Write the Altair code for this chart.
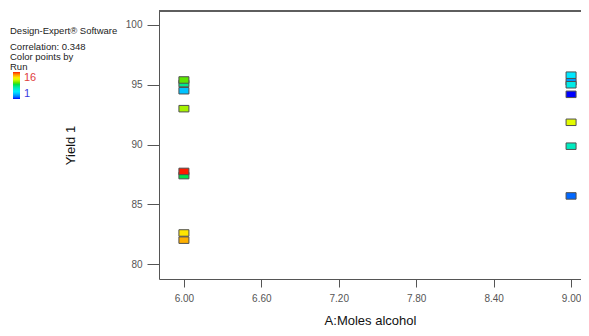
import altair as alt
import pandas as pd

# data
moles = [9.0, 9.0, 9.0, 6.0, 9.0, 9.0, 9.0, 6.0, 6.0, 6.0, 6.0, 9.0, 6.0, 6.0, 6.0]
yields = [94.2, 85.7, 95.25, 94.5, 95.8, 95.0, 89.86, 95.1, 87.4, 95.4, 93.0, 91.86, 82.6, 82.0, 87.75]
runs = [1, 2, 3, 4, 5, 6, 7, 8, 9, 10, 11, 12, 13, 14, 16]

x_ticks = [6.0, 6.6, 7.2, 7.8, 8.4, 9.0]
y_ticks = [80, 85, 90, 95, 100]

notes = ["Design-Expert® Software", "Correlation: 0.348", "Color points by", "Run"]
note_y = [20, 36, 46, 56]

df = pd.DataFrame({"x": moles, "y": yields, "run": runs})
notes_df = pd.DataFrame({"t": notes, "py": note_y})

FONT = "Liberation Sans"
GREY = "#555555"
W, H = 422, 268

points = alt.Chart(df).mark_point(
    shape="M-1,-0.65H1V0.65H-1Z", size=100, filled=True, opacity=1,
    stroke="#505050", strokeWidth=1
).encode(
    x=alt.X("x:Q", scale=alt.Scale(domain=[5.807, 9.077], nice=False, zero=False),
            axis=alt.Axis(values=x_ticks, format=".2f", title="A:Moles alcohol",
                          tickSize=8, labelPadding=6, titlePadding=11,
                          titleFontSize=13, titleFontWeight="normal", titleColor="#111",
                          labelFontSize=10, labelColor=GREY, domainColor=GREY,
                          tickColor=GREY, grid=False, labelFont=FONT, titleFont=FONT)),
    y=alt.Y("y:Q", scale=alt.Scale(domain=[78.75, 101.17], nice=False, zero=False),
            axis=alt.Axis(values=y_ticks, title="Yield 1", tickSize=12, labelPadding=5,
                          titlePadding=48, titleFontSize=13, titleFontWeight="normal",
                          titleColor="#111", labelFontSize=10, labelColor=GREY,
                          domainColor=GREY, tickColor=GREY, grid=False,
                          labelFont=FONT, titleFont=FONT)),
    fill=alt.Fill("run:Q",
                  scale=alt.Scale(domain=[1, 5, 9.5, 12.5, 16],
                                  range=["#0000ff", "#00e8ff", "#10e010", "#ffff00", "#ff1a00"]),
                  legend=alt.Legend(orient="none", legendX=-146, legendY=61,
                                    title=None, gradientLength=27, gradientThickness=7,
                                    values=[1, 16], labelFontSize=11, labelFont=FONT,
                                    labelColor=alt.ExprRef("datum.value >= 16 ? '#e04040' : '#3a3ae0'"),
                                    labelOffset=4, gradientStrokeWidth=0, direction="vertical")),
)

# top border of the frame (the right border lies beyond the picture in the reference)
top_line = alt.Chart(notes_df).mark_rule(color=GREY, strokeWidth=1).encode(
    x=alt.value(0), x2=alt.value(W), y=alt.value(0)
)

texts = alt.Chart(notes_df).mark_text(
    align="left", baseline="middle", font=FONT, fontSize=9.5, color="#222"
).encode(
    x=alt.value(-149),
    y=alt.Y("py:Q", scale=None),
    text="t:N",
)

chart = alt.layer(points, top_line, texts).properties(
    width=W, height=H,
    autosize=alt.AutoSizeParams(type="none"),
    padding={"left": 151, "top": 3, "right": 0, "bottom": 49},
    background="white",
).configure_view(strokeWidth=0)

chart.save("out.html", embed_options={"renderer": "svg", "actions": False})
